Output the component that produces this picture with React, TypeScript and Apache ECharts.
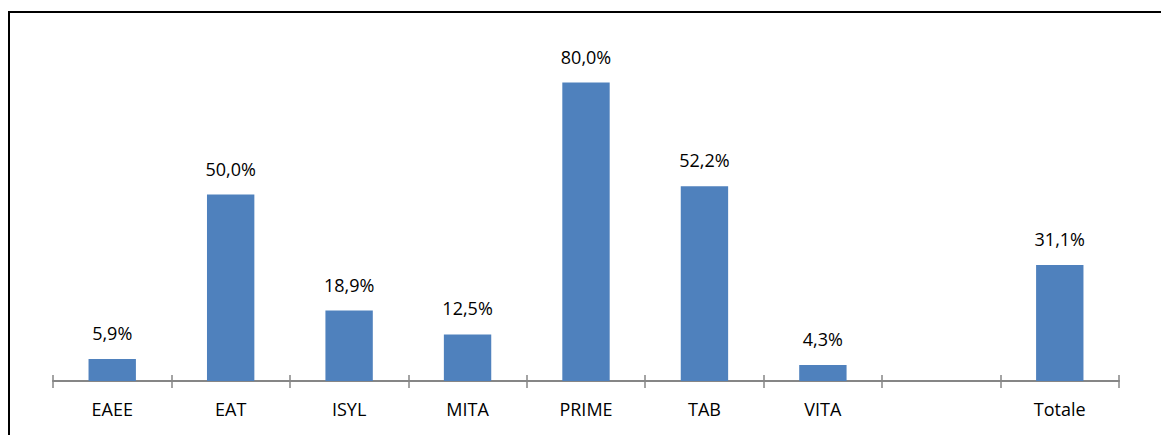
import React, { useEffect, useRef } from "react";
import * as echarts from "echarts";

const categories = ["EAEE", "EAT", "ISYL", "MITA", "PRIME", "TAB", "VITA", "", "Totale"];
const shares: (number | null)[] = [5.9, 50.0, 18.9, 12.5, 80.0, 52.2, 4.3, null, 31.1];

const FONT = "'Open Sans', sans-serif";
const AXIS_GREY = "#868686";
const BAR_BLUE = "#4f81bd";

const fmtPercent = (v: number) => v.toFixed(1).replace(".", ",") + "%";

export default function App() {
  const ref = useRef<HTMLDivElement>(null);

  useEffect(() => {
    if (!ref.current) return;
    const chart = echarts.init(ref.current, undefined, { renderer: "svg" });
    chart.setOption({
      animation: false,
      backgroundColor: "#ffffff",
      grid: { left: 53, right: 42, top: 8, bottom: 54, containLabel: false },
      graphic: [
        {
          type: "rect",
          shape: { x: 9, y: 12, width: 1300, height: 600 },
          style: { fill: "none", stroke: "#000", lineWidth: 2 },
          silent: true,
        },
      ],
      xAxis: [
        {
          type: "category",
          data: categories,
          position: "bottom",
          axisLine: { show: true, lineStyle: { color: AXIS_GREY, width: 2 } },
          axisTick: { show: true, inside: false, length: 7, lineStyle: { color: AXIS_GREY, width: 1.5 } },
          axisLabel: { show: true, margin: 19, color: "#000", fontFamily: FONT, fontSize: 18 },
          splitLine: { show: false },
        },
        {
          type: "category",
          data: categories,
          position: "bottom",
          axisLine: { show: false },
          axisTick: { show: true, inside: true, length: 6, lineStyle: { color: AXIS_GREY, width: 1.5 } },
          axisLabel: { show: false },
          splitLine: { show: false },
        },
      ],
      yAxis: {
        type: "value",
        min: 0,
        max: 100,
        show: false,
        splitLine: { show: false },
      },
      series: [
        {
          type: "bar",
          xAxisIndex: 0,
          data: shares.map((v) => (v === null ? "-" : v)),
          barWidth: "40%",
          itemStyle: { color: BAR_BLUE },
          label: {
            show: true,
            position: "top",
            distance: 17,
            color: "#000",
            fontFamily: FONT,
            fontSize: 18,
            formatter: (p: any) => fmtPercent(Number(p.value)),
          },
        },
      ],
    });
    return () => chart.dispose();
  }, []);

  return (
    <div
      ref={ref}
      style={{ position: "fixed", left: 0, top: 0, width: 1161, height: 435, background: "#fff" }}
    />
  );
}
